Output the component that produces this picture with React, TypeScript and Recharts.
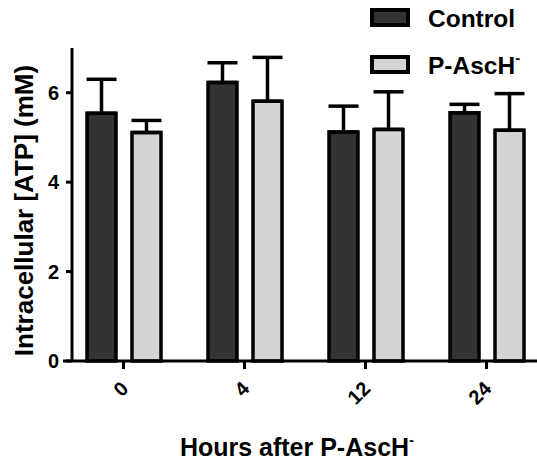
import { BarChart, Bar, XAxis, YAxis, ErrorBar, Legend } from 'recharts';

const hours = ['0', '4', '12', '24'];
const controlMean = [5.54, 6.23, 5.12, 5.55];
const controlSem = [0.76, 0.44, 0.58, 0.19];
const ascMean = [5.11, 5.81, 5.18, 5.16];
const ascSem = [0.27, 0.98, 0.84, 0.82];
const yTicks = [0, 2, 4, 6];

const FONT = '"Liberation Sans", Arial, sans-serif';

// upward-only error bars: [below, above]
const data = hours.map((h, i) => ({
  hour: h,
  control: controlMean[i],
  controlErr: [0, controlSem[i]],
  asc: ascMean[i],
  ascErr: [0, ascSem[i]],
}));

// "P-AscH⁻" -> base text plus a raised minus
const withSup = (label: string, size: number) => {
  if (!label.endsWith('⁻')) return label;
  return (
    <>
      {label.slice(0, -1)}
      <tspan fontSize={size * 0.6} dy={-size * 0.45}>-</tspan>
    </>
  );
};

const XTick = ({ x, y, payload }: any) => (
  <text
    x={x + 6}
    y={y + 21}
    transform={`rotate(-45, ${x + 6}, ${y + 21})`}
    textAnchor="end"
    fontFamily={FONT}
    fontWeight="bold"
    fontSize={20}
    fill="#000"
  >
    {payload.value}
  </text>
);

const YTick = ({ x, y, payload }: any) => (
  <text
    x={x + 4}
    y={y}
    dy="0.36em"
    textAnchor="end"
    fontFamily={FONT}
    fontWeight="bold"
    fontSize={20}
    fill="#000"
  >
    {payload.value}
  </text>
);

const renderLegend = ({ payload }: any) => (
  <svg width={171} height={85}>
    {(payload || []).map((entry: any, i: number) => (
      <g key={`leg-${i}`}>
        <rect x={6} y={10 + i * 47} width={36} height={15} fill={entry.color} stroke="#000" strokeWidth={4} />
        <text x={62} y={27 + i * 47} fontFamily={FONT} fontWeight="bold" fontSize={24.5} fill="#000">
          {withSup(String(entry.value), 24.5)}
        </text>
      </g>
    ))}
  </svg>
);

const YLabel = ({ viewBox }: any) => {
  const cx = viewBox.x + 33;
  const cy = viewBox.y + viewBox.height / 2 + 6;
  return (
    <text
      x={cx}
      y={cy}
      transform={`rotate(-90, ${cx}, ${cy})`}
      textAnchor="middle"
      fontFamily={FONT}
      fontWeight="bold"
      fontSize={26}
      fill="#000"
    >
      Intracellular [ATP] (mM)
    </text>
  );
};

const XLabel = ({ viewBox }: any) => {
  const cx = viewBox.x + 234;
  const cy = viewBox.y + 95;
  return (
    <text x={cx} y={cy} textAnchor="middle" fontFamily={FONT} fontWeight="bold" fontSize={25} fill="#000">
      {withSup('Hours after P-AscH⁻', 25)}
    </text>
  );
};

export default function App() {
  return (
    <div style={{ position: 'absolute', left: 0, top: 0, width: 537, height: 464, overflow: 'hidden', background: '#fff' }}>
      <BarChart
        width={547}
        height={464}
        data={data}
        margin={{ top: 48, right: 0, left: 0, bottom: 0 }}
        barSize={29}
        barGap={16}
      >
        <XAxis
          dataKey="hour"
          height={103}
          tickSize={8}
          tickMargin={0}
          axisLine={{ stroke: '#000', strokeWidth: 3 }}
          tickLine={{ stroke: '#000', strokeWidth: 3 }}
          tick={<XTick />}
          interval={0}
          label={<XLabel />}
        />
        <YAxis
          width={63}
          domain={[0, 7]}
          ticks={yTicks}
          tickSize={6}
          tickMargin={2}
          axisLine={{ stroke: '#000', strokeWidth: 3, transform: 'translate(9,0)' }}
          tickLine={{ stroke: '#000', strokeWidth: 3, transform: 'translate(9,0)' }}
          tick={<YTick />}
          label={<YLabel />}
        />
        <Legend
          layout="horizontal"
          verticalAlign="middle"
          align="center"
          content={renderLegend}
          wrapperStyle={{ position: 'absolute', left: 366, top: 0, width: 171, height: 85 }}
        />
        <Bar dataKey="control" name="Control" fill="#333333" stroke="#000" strokeWidth={3.5} isAnimationActive={false}>
          <ErrorBar dataKey="controlErr" direction="y" width={15} stroke="#000" strokeWidth={3.5} isAnimationActive={false} />
        </Bar>
        <Bar dataKey="asc" name="P-AscH⁻" fill="#d4d4d4" stroke="#000" strokeWidth={3.5} isAnimationActive={false}>
          <ErrorBar dataKey="ascErr" direction="y" width={15} stroke="#000" strokeWidth={3.5} isAnimationActive={false} />
        </Bar>
      </BarChart>
    </div>
  );
}
